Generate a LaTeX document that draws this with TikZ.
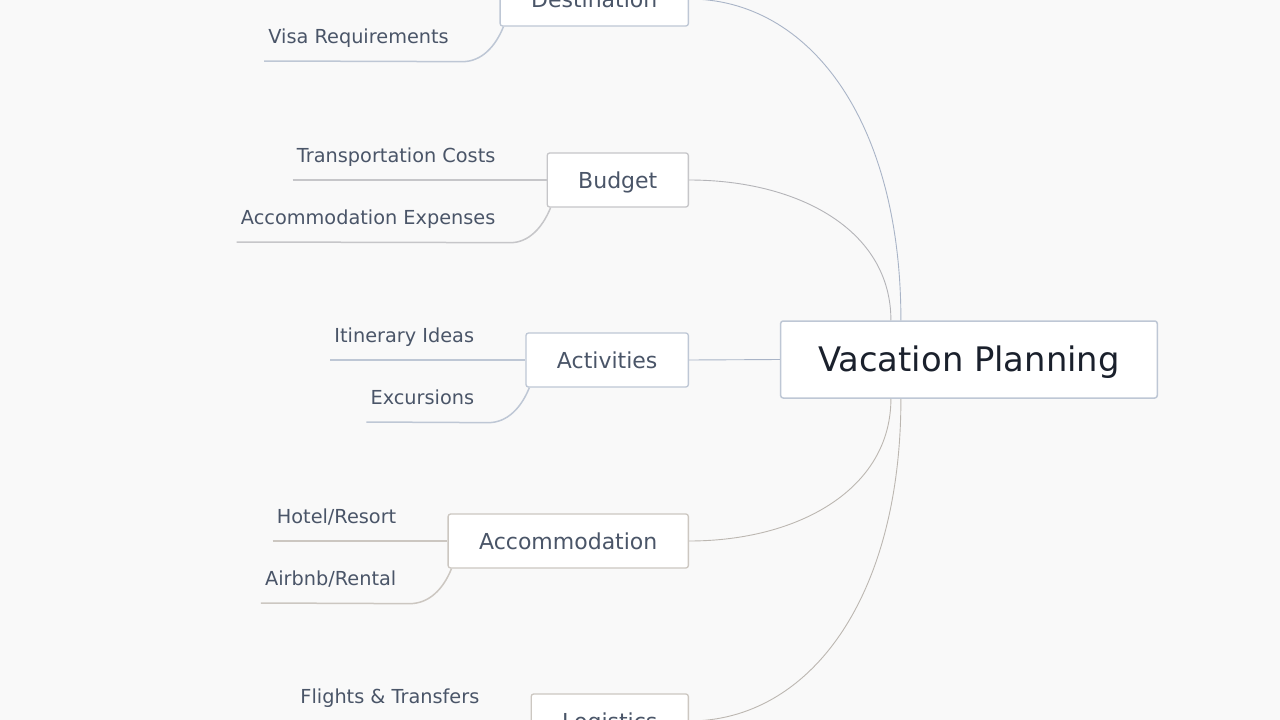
\documentclass[tikz,border=0pt]{standalone}
\usepackage{fontspec}
\setmainfont{DejaVu Sans}
\usetikzlibrary{calc}
\definecolor{bgc}{HTML}{F9F9F9}
\definecolor{rootText}{HTML}{1A202C}
\definecolor{subText}{HTML}{4A5568}
\definecolor{blueEdge}{HTML}{A9B4C7}
\definecolor{blueLine}{HTML}{BEC7D5}
\definecolor{grayEdge}{HTML}{B4B4B8}
\definecolor{grayLine}{HTML}{C6C6C9}
\definecolor{warmEdge}{HTML}{BCB7B1}
\definecolor{warmLine}{HTML}{CCC7C1}
\tikzset{
  rootbox/.style={draw=blueLine, line width=1.5pt, fill=white, rounded corners=2.5pt,
    inner xsep=37.5pt, inner ysep=0pt, minimum height=77pt, text height=24.6pt, text depth=0pt,
    font=\fontsize{33.8}{40}\selectfont, text=rootText},
  branchbox/.style={line width=1.3pt, fill=white, rounded corners=2.5pt,
    inner xsep=31pt, inner ysep=0pt, minimum height=54pt, text height=16pt, text depth=0pt,
    font=\fontsize{22}{26}\selectfont, text=subText},
  leaftext/.style={inner sep=0pt, font=\fontsize{19.3}{23}\selectfont, text=subText},
  rootedge/.style={line width=0.9pt},
  leafline/.style={line width=1.5pt},
}
\begin{document}
\begin{tikzpicture}[x=1pt,y=-1pt]
\useasboundingbox (0,0) rectangle (1280,720);
\fill[bgc] (0,0) rectangle (1280,720);
\clip (0,0) rectangle (1280,720);

% root
\node[rootbox, anchor=east] (root) at (1158,359.5) {Vacation Planning};

% branches
\node[branchbox, draw=blueLine, anchor=east] (dest) at (689,-1) {Destination};
\node[branchbox, draw=grayLine, anchor=east] (bud) at (689,180) {Budget};
\node[branchbox, draw=blueLine, anchor=east] (act) at (689,360) {Activities};
\node[branchbox, draw=warmLine, anchor=east] (acc) at (689,541) {Accommodation};
\node[branchbox, draw=warmLine, anchor=east] (log) at (689,721) {Logistics};

% root edges
\draw[rootedge, blueEdge] (dest.east) .. controls +(120,0) and +(0,-200) .. ($(root.north west)+(121,0)$);
\draw[rootedge, grayEdge] (bud.east) .. controls +(110,0) and +(0,-90) .. ($(root.north west)+(111,0)$);
\draw[rootedge, blueEdge] (act.east) -- (root.west);
\draw[rootedge, warmEdge] (acc.east) .. controls +(110,0) and +(0,90) .. ($(root.south west)+(111,0)$);
\draw[rootedge, warmEdge] (log.east) .. controls +(120,0) and +(0,200) .. ($(root.south west)+(121,0)$);

% leaves: Destination
\coordinate (destTop) at ($(dest.west)+(-242,0)$);
\draw[leafline, blueLine] (destTop) -- (dest.west);
\node[leaftext, anchor=base east] (visa) at ($(dest.west)+(-50.5,44)$) {Visa Requirements};
\draw[leafline, blueLine] ($(visa.base west)+(-4,18)$) -- ($(dest.south west)+(-37,35)$)
  .. controls ($(dest.south west)+(-18,35)$) and ($(dest.south west)+(-4,20)$) .. ($(dest.south west)+(4,0)$);

% leaves: Budget
\node[leaftext, anchor=base east] (trans) at ($(bud.west)+(-51,-18)$) {Transportation Costs};
\draw[leafline, grayLine] ($(trans.base west)+(-4,18)$) -- (bud.west);
\node[leaftext, anchor=base east] (accexp) at ($(bud.west)+(-51,44)$) {Accommodation Expenses};
\draw[leafline, grayLine] ($(accexp.base west)+(-4,18)$) -- ($(bud.south west)+(-36,35)$)
  .. controls ($(bud.south west)+(-18,35)$) and ($(bud.south west)+(-4,20)$) .. ($(bud.south west)+(4,0)$);

% leaves: Activities
\node[leaftext, anchor=base east] (itin) at ($(act.west)+(-51,-18)$) {Itinerary Ideas};
\draw[leafline, blueLine] ($(itin.base west)+(-4,18)$) -- (act.west);
\node[leaftext, anchor=base east] (exc) at ($(act.west)+(-51,44)$) {Excursions};
\draw[leafline, blueLine] ($(exc.base west)+(-4,18)$) -- ($(act.south west)+(-37,35)$)
  .. controls ($(act.south west)+(-18,35)$) and ($(act.south west)+(-4,20)$) .. ($(act.south west)+(4,0)$);

% leaves: Accommodation
\node[leaftext, anchor=base east] (hotel) at ($(acc.west)+(-51,-18)$) {Hotel/Resort};
\draw[leafline, warmLine] ($(hotel.base west)+(-4,18)$) -- (acc.west);
\node[leaftext, anchor=base east] (airbnb) at ($(acc.west)+(-51,44)$) {Airbnb/Rental};
\draw[leafline, warmLine] ($(airbnb.base west)+(-4,18)$) -- ($(acc.south west)+(-38,35)$)
  .. controls ($(acc.south west)+(-18,35)$) and ($(acc.south west)+(-4,20)$) .. ($(acc.south west)+(4,0)$);

% leaves: Logistics
\node[leaftext, anchor=base east] (flights) at ($(log.west)+(-51,-18)$) {Flights \& Transfers};
\draw[leafline, warmLine] ($(flights.base west)+(-4,18)$) -- (log.west);
\end{tikzpicture}
\end{document}
